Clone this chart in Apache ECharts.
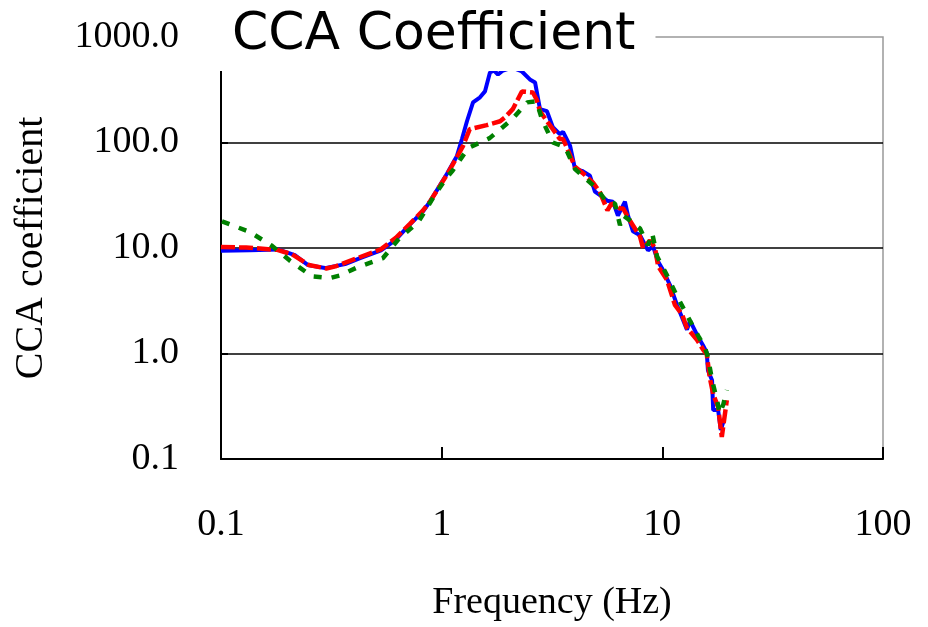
<!DOCTYPE html>
<html>
<head>
<meta charset="utf-8">
<script src="https://cdn.jsdelivr.net/npm/echarts@6/dist/echarts.min.js"></script>
<style>
html,body{margin:0;padding:0;background:#fff;}
#chart{width:928px;height:627px;}
</style>
</head>
<body>
<div id="chart"></div>
<script>
const titleText = "CCA Coefficient";
const xName = "Frequency (Hz)";
const yName = "CCA coefficient";
const xTicks = [0.1, 1, 10, 100];
const yTicks = [0.1, 1, 10, 100, 1000];

const blueFreq = [0.100,0.135,0.181,0.216,0.248,0.296,0.365,0.427,0.531,0.615,0.704,0.822,0.885,1.057,1.173,1.236,1.302,1.387,1.492,1.571,1.655,1.726,1.80,1.896,2.08,2.31,2.51,2.65,2.79,3.00,3.19,3.43,3.55,3.82,4.02,4.32,4.70,4.95,5.33,5.61,5.97,6.29,6.77,6.99,7.36,7.92,8.61,9.07,9.55,10.07,10.83,11.65,12.93,13.35,14.35,15.3,15.9,16.1,16.8,17.0,17.9,18.4,19.0];
const blueVal  = [9.4,9.5,9.7,8.55,6.88,6.45,7.03,8.0,9.5,11.8,16.0,22.2,27.5,50.5,74.6,108,159,240,268,305,461,481,441,481,514,471,396,371,207,198,140,120,126,92.7,56.3,53.9,48.4,34.2,30.7,28.1,27.5,20.3,27.5,20.3,14.4,13.2,9.5,10.4,7.5,6.18,4.46,2.89,1.68,2.05,1.51,1.19,1.02,0.69,0.557,0.291,0.291,0.188,0.234];

const redFreq = [0.100,0.13,0.18,0.21,0.25,0.30,0.33,0.40,0.53,0.62,0.72,0.82,0.89,1.06,1.17,1.25,1.34,1.60,1.84,1.94,2.10,2.31,2.59,2.69,2.79,3.00,3.19,3.43,3.55,4.02,4.45,4.85,5.20,5.64,5.88,6.43,6.64,7.16,7.92,8.18,8.80,9.27,9.57,10.5,11.4,12.3,12.9,14.35,15.3,15.9,16.4,17.0,17.9,18.6,19.6];
const redVal  = [10.2,10.1,9.6,8.7,6.9,6.4,6.7,7.8,9.7,12.5,17.0,22.5,28,50,72,93,134,146,159,174,207,305,298,257,198,159,134,108,108,58.8,49.4,41.6,34.2,22.7,26.4,23.7,23.7,17.9,12.9,9.95,11.8,9.95,6.73,4.97,2.89,2.33,1.76,1.35,1.09,0.98,0.594,0.411,0.31,0.162,0.361];

const greenFreq = [0.101,0.135,0.170,0.205,0.258,0.312,0.346,0.418,0.541,0.646,0.782,0.933,1.057,1.12,1.28,1.34,1.65,2.08,2.44,2.69,2.85,3.19,3.63,4.02,5.06,5.61,6.1,6.43,6.64,7.16,7.92,8.61,9.0,9.45,10.5,11.65,13.35,14.7,15.6,16.1,16.8,17.7,18.2,18.9,19.6];
const greenVal  = [17.9,14.2,10.5,7.6,5.4,5.2,5.5,6.6,8.0,12.5,17.5,32,47,54,81,90,110,165,240,246,165,100,90,56,36.5,27,26.4,16.4,20.3,18.2,15.3,10.6,13.8,8.4,5.5,3.5,2.04,1.41,1.14,0.92,0.56,0.36,0.27,0.33,0.45];

function pairs(f, v) { return f.map((x, i) => [x, v[i]]); }

const serif = "Liberation Serif";
const chart = echarts.init(document.getElementById('chart'), null, {renderer: 'canvas'});
chart.setOption({
  animation: false,
  backgroundColor: '#fff',
  title: {
    text: titleText,
    left: 212, top: 0,
    padding: [6, 20, 7, 20],
    backgroundColor: '#fff',
    textStyle: {fontFamily: 'DejaVu Sans', fontSize: 52, fontWeight: 'normal', color: '#000', lineHeight: 58}
  },
  grid: {
    left: 221, right: 45, top: 37, bottom: 165,
    show: true, borderColor: '#999999', borderWidth: 1.5, backgroundColor: 'transparent'
  },
  xAxis: {
    type: 'log', logBase: 10, min: xTicks[0], max: xTicks[xTicks.length - 1],
    name: xName, nameLocation: 'middle', nameGap: 125,
    nameTextStyle: {fontFamily: serif, fontSize: 38, color: '#000'},
    axisLine: {show: true, lineStyle: {color: '#000', width: 2}},
    axisTick: {show: true, inside: true, length: 12, lineStyle: {color: '#000', width: 2}},
    axisLabel: {fontFamily: serif, fontSize: 38, color: '#000', margin: 47,
      formatter: v => String(+v.toPrecision(3))},
    splitLine: {show: false},
    minorTick: {show: false}
  },
  yAxis: {
    type: 'log', logBase: 10, min: yTicks[0], max: yTicks[yTicks.length - 1],
    name: yName, nameLocation: 'middle', nameGap: 170, nameRotate: 90,
    nameTextStyle: {fontFamily: serif, fontSize: 40, color: '#000'},
    axisLine: {show: true, lineStyle: {color: '#000', width: 2}},
    axisTick: {show: true, inside: true, length: 7, lineStyle: {color: '#000', width: 2}},
    axisLabel: {fontFamily: serif, fontSize: 38, color: '#000', margin: 42,
      formatter: v => (+v).toFixed(1)},
    splitLine: {show: true, showMaxLine: false, showMinLine: false, lineStyle: {color: '#000', width: 1.5}}
  },
  series: [
    {type: 'line', name: 'blue', data: pairs(blueFreq, blueVal), showSymbol: false,
      lineStyle: {color: '#0000ff', width: 4, type: 'solid'}, itemStyle: {color: '#0000ff'}},
    {type: 'line', name: 'red', data: pairs(redFreq, redVal), showSymbol: false,
      lineStyle: {color: '#ff0000', width: 4.5, type: [14, 4]}, itemStyle: {color: '#ff0000'}},
    {type: 'line', name: 'green', data: pairs(greenFreq, greenVal), showSymbol: false,
      lineStyle: {color: '#008000', width: 4.5, type: [8, 10]}, itemStyle: {color: '#008000'}}
  ]
});
</script>
</body>
</html>
